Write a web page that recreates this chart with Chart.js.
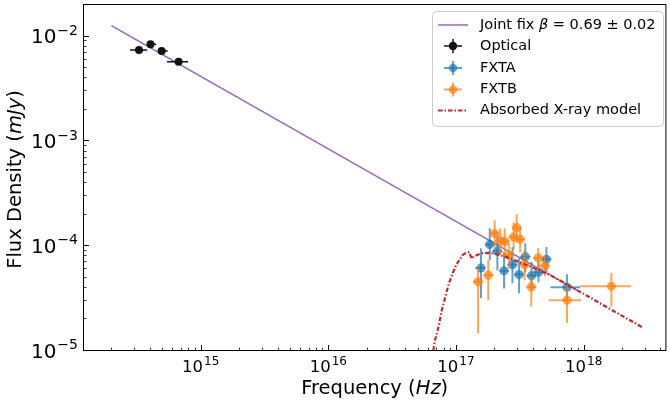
<!DOCTYPE html>
<html>
<head>
<meta charset="utf-8">
<script src="https://cdn.jsdelivr.net/npm/chart.js@4.4.1/dist/chart.umd.min.js"></script>
<style>
  html, body { margin: 0; padding: 0; background: #fff; }
</style>
</head>
<body>
<canvas id="sed" width="670" height="402"></canvas>
<script>
// --- optical photometry ---
const optFreq   = [3.29e14, 4.05e14, 4.95e14, 6.72e14];
const optFlux   = [7.30e-3, 8.28e-3, 7.14e-3, 5.65e-3];
const optFreqLo = [2.80e14, 3.86e14, 4.62e14, 5.45e14];
const optFreqHi = [3.81e14, 4.48e14, 5.52e14, 7.98e14];
const optFluxLo = [6.74e-3, 7.90e-3, 6.80e-3, 5.40e-3];
const optFluxHi = [7.90e-3, 8.67e-3, 7.50e-3, 5.90e-3];

// --- X-ray, FXTA ---
const fxtaFreq   = [1.57e17, 1.84e17, 2.11e17, 2.38e17, 2.77e17, 3.12e17, 3.49e17, 3.91e17, 4.43e17, 5.11e17, 7.41e17];
const fxtaFlux   = [6.07e-5, 1.017e-4, 8.77e-5, 5.71e-5, 6.52e-5, 5.25e-5, 7.77e-5, 5.12e-5, 5.52e-5, 7.35e-5, 3.97e-5];
const fxtaFreqLo = [1.42e17, 1.68e17, 1.93e17, 2.18e17, 2.53e17, 2.85e17, 3.19e17, 3.57e17, 4.05e17, 4.67e17, 5.49e17];
const fxtaFreqHi = [1.70e17, 2.01e17, 2.31e17, 2.60e17, 3.03e17, 3.41e17, 3.82e17, 4.28e17, 4.85e17, 5.59e17, 9.43e17];
const fxtaFluxLo = [3.12e-5, 7.19e-5, 5.77e-5, 3.86e-5, 4.34e-5, 3.48e-5, 5.52e-5, 3.72e-5, 4.44e-5, 5.56e-5, 2.99e-5];
const fxtaFluxHi = [9.35e-5, 1.452e-4, 1.245e-4, 8.63e-5, 9.64e-5, 7.52e-5, 1.045e-4, 6.93e-5, 6.89e-5, 9.64e-5, 5.28e-5];

// --- X-ray, FXTB ---
const fxtbFreq   = [1.49e17, 1.79e17, 2.01e17, 2.22e17, 2.41e17, 2.61e17, 2.83e17, 2.99e17, 3.18e17, 3.45e17, 3.89e17, 4.41e17, 4.97e17, 7.41e17, 1.65e18];
const fxtbFlux   = [4.47e-5, 5.18e-5, 1.294e-4, 1.104e-4, 1.084e-4, 8.03e-5, 1.20e-4, 1.47e-4, 1.14e-4, 6.52e-5, 4.00e-5, 7.56e-5, 6.37e-5, 2.99e-5, 4.06e-5];
const fxtbFreqLo = [1.36e17, 1.64e17, 1.84e17, 2.03e17, 2.20e17, 2.39e17, 2.59e17, 2.73e17, 2.91e17, 3.15e17, 3.56e17, 4.03e17, 4.54e17, 5.33e17, 9.43e17];
const fxtbFreqHi = [1.63e17, 1.96e17, 2.20e17, 2.43e17, 2.64e17, 2.86e17, 3.10e17, 3.27e17, 3.48e17, 3.77e17, 4.26e17, 4.82e17, 5.44e17, 9.53e17, 2.35e18];
const fxtbFluxLo = [1.445e-5, 2.99e-5, 9.64e-5, 8.03e-5, 8.03e-5, 6.04e-5, 8.96e-5, 1.069e-4, 8.57e-5, 4.63e-5, 2.58e-5, 5.56e-5, 5.06e-5, 1.815e-5, 2.58e-5];
const fxtbFluxHi = [6.04e-5, 7.19e-5, 1.734e-4, 1.452e-4, 1.452e-4, 1.045e-4, 1.655e-4, 1.977e-4, 1.486e-4, 8.96e-5, 4.99e-5, 9.35e-5, 8.03e-5, 4.15e-5, 5.43e-5];

// --- joint power-law fit ---
const jointFreq = [2.0e14, 9.5e17];
const jointFlux = [1.25e-2, 3.55e-5];

// --- absorbed X-ray model ---
const modelFreq = [6.53e16, 6.70e16, 6.85e16, 7.19e16, 7.43e16, 7.74e16, 8.13e16, 8.51e16, 8.89e16, 9.42e16,
                   1.00e17, 1.06e17, 1.127e17, 1.197e17, 1.271e17, 1.324e17, 1.390e17, 1.567e17, 1.820e17, 2.11e17,
                   2.68e17, 3.61e17, 5.50e17, 1.0e18, 1.585e18, 2.90e18];
const modelFlux = [7.94e-6, 1.072e-5, 1.242e-5, 1.545e-5, 1.854e-5, 2.40e-5, 2.99e-5, 3.72e-5, 4.47e-5, 5.37e-5,
                   6.44e-5, 7.19e-5, 8.04e-5, 8.45e-5, 8.63e-5, 7.46e-5, 7.85e-5, 8.34e-5, 8.45e-5, 8.20e-5,
                   7.46e-5, 6.44e-5, 5.18e-5, 3.43e-5, 2.49e-5, 1.64e-5];

const xMajor = [1e15, 1e16, 1e17, 1e18];
const xMajorExp = ['15', '16', '17', '18'];
const yMajor = [1e-5, 1e-4, 1e-3, 1e-2];
const yMajorExp = ['\u22125', '\u22124', '\u22123', '\u22122'];

const FONT = '"DejaVu Sans"';
const C_BLUE = 'rgba(31,119,180,0.7)';
const C_ORANGE = 'rgba(255,127,14,0.7)';
const C_BLACK = '#111';
const C_PURPLE = '#9467bd';
const C_RED = '#c8262a';
const RED_DASH = [4.5, 2, 1.5, 2];

const pts = (xs, ys) => xs.map((x, i) => ({ x: x, y: ys[i] }));

// error bars are drawn right before each dataset's markers
const errorBars = {
  id: 'errorBars',
  beforeDatasetDraw(chart, args) {
    const ds = chart.data.datasets[args.index];
    if (!ds.err) return;
    const { ctx, chartArea: a } = chart;
    const sx = chart.scales.x, sy = chart.scales.y;
    ctx.save();
    ctx.beginPath();
    ctx.rect(a.left, a.top, a.right - a.left, a.bottom - a.top);
    ctx.clip();
    ctx.strokeStyle = ds.backgroundColor;
    ctx.lineWidth = ds.err.width;
    ds.data.forEach((p, i) => {
      const px = sx.getPixelForValue(p.x), py = sy.getPixelForValue(p.y);
      ctx.beginPath();
      ctx.moveTo(sx.getPixelForValue(ds.err.xlo[i]), py);
      ctx.lineTo(sx.getPixelForValue(ds.err.xhi[i]), py);
      ctx.stroke();
      ctx.beginPath();
      ctx.moveTo(px, sy.getPixelForValue(ds.err.ylo[i]));
      ctx.lineTo(px, sy.getPixelForValue(ds.err.yhi[i]));
      ctx.stroke();
    });
    ctx.restore();
  }
};

function drawPow(ctx, exp, x, y, size, align) {
  const sup = Math.round(size * 0.7);
  ctx.font = size + 'px ' + FONT;
  const wb = ctx.measureText('10').width;
  ctx.font = sup + 'px ' + FONT;
  const we = ctx.measureText(exp).width;
  const total = wb + we + 1;
  const x0 = align === 'center' ? x - total / 2 : x - total;
  ctx.textAlign = 'left';
  ctx.textBaseline = 'alphabetic';
  ctx.font = size + 'px ' + FONT;
  ctx.fillText('10', x0, y);
  ctx.font = sup + 'px ' + FONT;
  ctx.fillText(exp, x0 + wb + 1, y - size * 0.42);
}

// draws a run of [text, italic] pieces starting at x
function drawRun(ctx, parts, x, y, size) {
  parts.forEach(([t, it]) => {
    ctx.font = (it ? 'italic ' : '') + size + 'px ' + FONT;
    ctx.fillText(t, x, y);
    x += ctx.measureText(t).width;
  });
  return x;
}
function runWidth(ctx, parts, size) {
  let w = 0;
  parts.forEach(([t, it]) => {
    ctx.font = (it ? 'italic ' : '') + size + 'px ' + FONT;
    w += ctx.measureText(t).width;
  });
  return w;
}

const frame = {
  id: 'frame',
  afterDraw(chart) {
    const { ctx, chartArea: a } = chart;
    const sx = chart.scales.x, sy = chart.scales.y;
    ctx.save();
    ctx.fillStyle = '#000';
    ctx.strokeStyle = '#000';

    // spines
    ctx.lineWidth = 1;
    ctx.strokeRect(a.left - 0.5, a.top - 0.5, a.right - a.left + 1, a.bottom - a.top + 1);

    // inward ticks
    const xLo = Math.floor(Math.log10(sx.min)), xHi = Math.ceil(Math.log10(sx.max));
    for (let e = xLo; e <= xHi; e++) {
      for (let k = 1; k <= 9; k++) {
        const v = k * Math.pow(10, e);
        if (v < sx.min || v > sx.max) continue;
        const px = Math.round(sx.getPixelForValue(v)) + 0.5;
        const len = k === 1 ? 5 : 2.5;
        ctx.lineWidth = k === 1 ? 1 : 0.8;
        ctx.beginPath();
        ctx.moveTo(px, a.bottom);
        ctx.lineTo(px, a.bottom - len);
        ctx.stroke();
      }
    }
    const yLo = Math.floor(Math.log10(sy.min)), yHi = Math.ceil(Math.log10(sy.max));
    for (let e = yLo; e <= yHi; e++) {
      for (let k = 1; k <= 9; k++) {
        const v = k * Math.pow(10, e);
        if (v < sy.min * 0.999 || v > sy.max) continue;
        const py = Math.round(sy.getPixelForValue(v)) + 0.5;
        const len = k === 1 ? 5 : 2.5;
        ctx.lineWidth = k === 1 ? 1 : 0.8;
        ctx.beginPath();
        ctx.moveTo(a.left, py);
        ctx.lineTo(a.left + len, py);
        ctx.stroke();
      }
    }

    // tick labels
    xMajor.forEach((v, i) => drawPow(ctx, xMajorExp[i], sx.getPixelForValue(v), a.bottom + 22, 16.5, 'center'));
    yMajor.forEach((v, i) => drawPow(ctx, yMajorExp[i], a.left - 6, sy.getPixelForValue(v) + 7.6, 20, 'right'));

    // axis titles
    const xt = [['Frequency (', false], ['Hz', true], [')', false]];
    const xw = runWidth(ctx, xt, 19.5);
    drawRun(ctx, xt, (a.left + a.right) / 2 - xw / 2, 394, 19.5);

    const yt = [['Flux Density (', false], ['mJy', true], [')', false]];
    const yw = runWidth(ctx, yt, 19.5);
    ctx.save();
    ctx.translate(21, (a.top + a.bottom) / 2 + 2);
    ctx.rotate(-Math.PI / 2);
    drawRun(ctx, yt, -yw / 2, 0, 19.5);
    ctx.restore();

    // legend
    const lx = 432.5, ly = 11.5, lw = 231, lh = 115;
    ctx.beginPath();
    ctx.roundRect(lx, ly, lw, lh, 4);
    ctx.fillStyle = 'rgba(255,255,255,0.85)';
    ctx.fill();
    ctx.strokeStyle = '#cccccc';
    ctx.lineWidth = 1;
    ctx.stroke();

    const rows = [25, 46, 68, 89.5, 110.5];
    const hx0 = 438, hx1 = 468, hc = 453, tx = 480, fs = 14.5;

    ctx.strokeStyle = C_PURPLE;
    ctx.lineWidth = 1.5;
    ctx.beginPath(); ctx.moveTo(hx0, rows[0]); ctx.lineTo(hx1, rows[0]); ctx.stroke();

    const marker = (y, col, lwid) => {
      ctx.strokeStyle = col; ctx.fillStyle = col; ctx.lineWidth = lwid;
      ctx.beginPath(); ctx.moveTo(hc - 9, y); ctx.lineTo(hc + 9, y); ctx.stroke();
      ctx.beginPath(); ctx.moveTo(hc, y - 7); ctx.lineTo(hc, y + 7); ctx.stroke();
      ctx.beginPath(); ctx.arc(hc, y, 4.2, 0, Math.PI * 2); ctx.fill();
    };
    marker(rows[1], C_BLACK, 1.5);
    marker(rows[2], C_BLUE, 2);
    marker(rows[3], C_ORANGE, 2);

    ctx.strokeStyle = C_RED;
    ctx.lineWidth = 2.2;
    ctx.setLineDash(RED_DASH);
    ctx.beginPath(); ctx.moveTo(hx0, rows[4]); ctx.lineTo(hx1, rows[4]); ctx.stroke();
    ctx.setLineDash([]);

    ctx.fillStyle = '#000';
    ctx.textBaseline = 'middle';
    drawRun(ctx, [['Joint fix ', false], ['\u03b2', true], [' = 0.69 \u00b1 0.02', false]], tx, rows[0], fs);
    drawRun(ctx, [['Optical', false]], tx, rows[1], fs);
    drawRun(ctx, [['FXTA', false]], tx, rows[2], fs);
    drawRun(ctx, [['FXTB', false]], tx, rows[3], fs);
    drawRun(ctx, [['Absorbed X-ray model', false]], tx, rows[4], fs);

    ctx.restore();
  }
};

new Chart(document.getElementById('sed').getContext('2d'), {
  type: 'scatter',
  data: {
    datasets: [
      {
        label: 'Absorbed X-ray model',
        type: 'line',
        data: pts(modelFreq, modelFlux),
        borderColor: C_RED,
        borderWidth: 2.2,
        borderDash: RED_DASH,
        pointRadius: 0,
        fill: false,
        tension: 0,
        order: 0
      },
      {
        label: 'FXTB',
        data: pts(fxtbFreq, fxtbFlux),
        backgroundColor: C_ORANGE,
        pointRadius: 4.6,
        borderWidth: 0,
        err: { xlo: fxtbFreqLo, xhi: fxtbFreqHi, ylo: fxtbFluxLo, yhi: fxtbFluxHi, width: 2 },
        order: 1
      },
      {
        label: 'FXTA',
        data: pts(fxtaFreq, fxtaFlux),
        backgroundColor: C_BLUE,
        pointRadius: 4.6,
        borderWidth: 0,
        err: { xlo: fxtaFreqLo, xhi: fxtaFreqHi, ylo: fxtaFluxLo, yhi: fxtaFluxHi, width: 2 },
        order: 2
      },
      {
        label: 'Optical',
        data: pts(optFreq, optFlux),
        backgroundColor: C_BLACK,
        pointRadius: 4,
        borderWidth: 0,
        err: { xlo: optFreqLo, xhi: optFreqHi, ylo: optFluxLo, yhi: optFluxHi, width: 1.5 },
        order: 3
      },
      {
        label: 'Joint fix',
        type: 'line',
        data: pts(jointFreq, jointFlux),
        borderColor: C_PURPLE,
        borderWidth: 1.5,
        pointRadius: 0,
        fill: false,
        order: 4
      }
    ]
  },
  options: {
    responsive: false,
    animation: false,
    devicePixelRatio: 1,
    layout: { padding: { left: 0, right: 1, top: 5, bottom: 0 } },
    plugins: { legend: { display: false }, tooltip: { enabled: false } },
    scales: {
      x: {
        type: 'logarithmic',
        min: 1.22e14,
        max: 4.37e18,
        grid: { display: false },
        border: { display: false },
        ticks: { display: false },
        afterFit: (s) => { s.height = 52; }
      },
      y: {
        type: 'logarithmic',
        min: 1e-5,
        max: 1.963e-2,
        grid: { display: false },
        border: { display: false },
        ticks: { display: false },
        afterFit: (s) => { s.width = 84; }
      }
    }
  },
  plugins: [errorBars, frame]
});
</script>
</body>
</html>
